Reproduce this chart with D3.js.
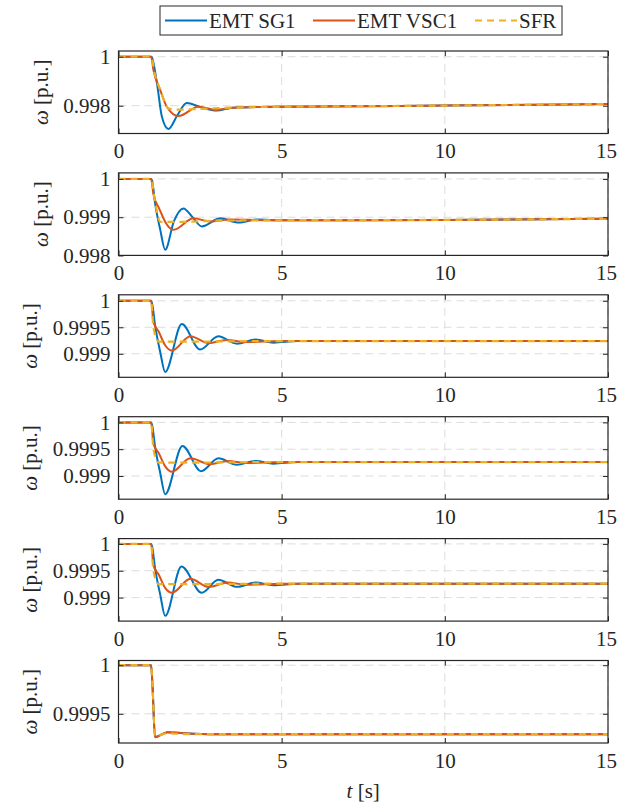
<!DOCTYPE html>
<html><head><meta charset="utf-8">
<script src="https://cdn.jsdelivr.net/npm/d3@7"></script>
<style>body{margin:0;background:#fff}svg{display:block}</style>
</head><body>
<svg id="c" width="617" height="810"></svg>
<script>
// ---------- data ----------
const seriesNames = ["EMT SG1", "EMT VSC1", "SFR"];
const xTicks = [0, 5, 10, 15];
const xDomain = [0, 15];
const yDomains = [[0.996866, 1.000233], [0.998003, 1.000157], [0.998556, 1.000113],
                  [0.998567, 1.000106], [0.998562, 1.0000987], [0.9991997, 1.0000484]];
const yTicks = [[0.998, 1], [0.998, 0.999, 1], [0.999, 0.9995, 1],
                [0.999, 0.9995, 1], [0.999, 0.9995, 1], [0.9995, 1]];
const yTickLabels = [["0.998", "1"], ["0.998", "0.999", "1"], ["0.999", "0.9995", "1"],
                     ["0.999", "0.9995", "1"], ["0.999", "0.9995", "1"], ["0.9995", "1"]];

// [t, omega] points
const p1SG  = [[0,1],[1.0,1],[1.02,0.99998],[1.18,0.9989],[1.33,0.99755],[1.53,0.99705],[1.8,0.9976],[2.09,0.99811],[2.5,0.99795],[3.01,0.9978],[3.5,0.99792],[5,0.99796],[8.6,0.99799],[12,0.99803],[15,0.99807]];
const p1VSC = [[0,1],[1.0,1],[1.07,0.99946],[1.28,0.99864],[1.48,0.99796],[1.84,0.99758],[2.45,0.99796],[3.0,0.99783],[3.5,0.99792],[5,0.99796],[8.6,0.99799],[12,0.99803],[15,0.99807]];
const p1SFR = [[0,1],[1.0,1],[1.12,0.99925],[1.28,0.99864],[1.53,0.99789],[1.8,0.99784],[2.5,0.99787],[3.5,0.99792],[5,0.99796],[8.6,0.99799],[12,0.99803],[15,0.99807]];

const p2SG  = [[0,1],[1.0,1],[1.03,0.99995],[1.12,0.99937],[1.28,0.99867],[1.43,0.99815],[1.7,0.9989],[1.99,0.99923],[2.27,0.999],[2.55,0.99876],[3.12,0.99897],[3.68,0.99886],[4.25,0.99894],[5,0.99892],[10,0.99893],[15,0.99896]];
const p2VSC = [[0,1],[1.0,1],[1.07,0.9996],[1.25,0.99922],[1.45,0.99885],[1.69,0.99867],[2.3,0.99897],[2.8,0.99889],[3.4,0.99894],[5,0.99892],[10,0.99893],[15,0.99896]];
const p2SFR = [[0,1],[1.0,1],[1.12,0.9994],[1.28,0.99888],[2,0.99888],[3,0.99891],[5,0.99892],[10,0.99893],[15,0.99896]];

const p3SG  = [[0,1],[1.0,1],[1.03,0.99995],[1.12,0.99954],[1.28,0.99903],[1.43,0.998655],[1.94,0.99956],[2.5,0.99908],[3.06,0.99933],[3.63,0.99919],[4.2,0.99927],[4.75,0.99921],[5.5,0.99924],[15,0.99924]];
const p3VSC = [[0,1],[1.0,1],[1.07,0.9996],[1.23,0.99942],[1.43,0.99916],[1.64,0.99906],[2.2,0.99933],[2.76,0.9992],[3.3,0.99926],[3.9,0.99922],[5,0.99924],[15,0.99924]];
const p3SFR = [[0,1],[1.0,1],[1.07,0.9995],[1.23,0.99923],[2,0.99923],[5,0.99924],[15,0.99924]];

const p4SG  = [[0,1],[1.0,1],[1.03,0.99995],[1.12,0.99955],[1.28,0.99905],[1.43,0.99866],[1.96,0.99956],[2.53,0.99909],[3.06,0.99933],[3.63,0.99921],[4.2,0.99928],[4.75,0.99923],[5.5,0.99926],[15,0.99926]];
const p4VSC = [[0,1],[1.0,1],[1.07,0.9996],[1.23,0.99943],[1.43,0.99918],[1.64,0.99908],[2.2,0.99933],[2.8,0.99922],[3.35,0.99928],[3.9,0.99924],[5,0.99926],[15,0.99926]];
const p4SFR = [[0,1],[1.0,1],[1.07,0.9995],[1.23,0.99925],[2,0.99925],[5,0.99926],[15,0.99926]];

const p5SG  = [[0,1],[1.0,1],[1.03,0.99995],[1.12,0.99955],[1.28,0.99905],[1.43,0.99866],[1.93,0.99958],[2.55,0.99909],[3.06,0.99933],[3.63,0.9992],[4.2,0.99928],[4.75,0.99923],[5.5,0.99926],[15,0.99926]];
const p5VSC = [[0,1],[1.0,1],[1.07,0.9996],[1.23,0.99943],[1.43,0.99918],[1.64,0.99909],[2.2,0.99935],[2.76,0.9992],[3.35,0.99928],[3.9,0.99924],[5,0.99926],[15,0.99926]];
const p5SFR = [[0,1],[1.0,1],[1.07,0.9995],[1.23,0.99925],[2,0.99925],[5,0.99926],[15,0.99926]];

const p6SG  = [[0,1],[1.0,1],[1.04,0.9998],[1.12,0.99926],[1.5,0.99931],[2,0.9993],[3,0.99929],[15,0.99929]];
const p6VSC = [[0,1],[1.0,1],[1.04,0.9998],[1.12,0.99926],[1.5,0.99931],[2,0.9993],[3,0.99929],[15,0.99929]];
const p6SFR = [[0,1],[1.0,1],[1.04,0.9998],[1.12,0.99927],[1.5,0.9993],[2,0.99929],[15,0.99929]];

const panels = [[p1SG,p1VSC,p1SFR],[p2SG,p2VSC,p2SFR],[p3SG,p3VSC,p3SFR],
                [p4SG,p4VSC,p4SFR],[p5SG,p5VSC,p5SFR],[p6SG,p6VSC,p6SFR]];

// ---------- style / layout ----------
const colors = ["#0072BD", "#D95319", "#EDB120"];
const FONT = "Liberation Serif";
const FS = 21;
const L = 118.5, R = 608, TOP0 = 51, STEP = 121.9, H = 82.5;
const axisCol = "#262626", gridCol = "#dcdcdc";

const svg = d3.select("#c").attr("font-family", FONT);
const x = d3.scaleLinear().domain(xDomain).range([L, R]);

panels.forEach((series, i) => {
  const top = TOP0 + i * STEP, bot = top + H;
  const y = d3.scaleLinear().domain(yDomains[i]).range([bot, top]);
  const g = svg.append("g");

  // grid
  g.selectAll(".gx").data(xTicks).join("line")
    .attr("x1", d => x(d)).attr("x2", d => x(d)).attr("y1", top).attr("y2", bot)
    .attr("stroke", gridCol).attr("stroke-width", 1).attr("stroke-dasharray", "8,5");
  g.selectAll(".gy").data(yTicks[i]).join("line")
    .attr("x1", L).attr("x2", R).attr("y1", d => y(d)).attr("y2", d => y(d))
    .attr("stroke", gridCol).attr("stroke-width", 1).attr("stroke-dasharray", "8,5");

  // lines
  const clipId = "clip" + i;
  svg.append("clipPath").attr("id", clipId).append("rect")
    .attr("x", L).attr("y", top).attr("width", R - L).attr("height", H);
  const line = d3.line().x(d => x(d[0])).y(d => y(d[1])).curve(d3.curveMonotoneX);
  series.forEach((s, k) => {
    g.append("path").datum(s).attr("d", line)
      .attr("fill", "none").attr("stroke", colors[k]).attr("stroke-width", k === 2 ? 2.2 : 2)
      .attr("stroke-dasharray", k === 2 ? "7,5" : null)
      .attr("clip-path", `url(#${clipId})`);
  });

  // axes (ticks inward, box)
  const ax = d3.axisBottom(x).tickValues(xTicks).tickSize(-5).tickPadding(10).tickFormat(d3.format("d"));
  const gb = g.append("g").attr("transform", `translate(0,${bot})`).call(ax);
  const ay = d3.axisLeft(y).tickValues(yTicks[i]).tickSize(-5).tickPadding(8)
    .tickFormat((d, j) => yTickLabels[i][j]);
  const gl = g.append("g").attr("transform", `translate(${L},0)`).call(ay);
  const at = d3.axisTop(x).tickValues(xTicks).tickSize(-5).tickFormat("");
  g.append("g").attr("transform", `translate(0,${top})`).call(at);
  const ar = d3.axisRight(y).tickValues(yTicks[i]).tickSize(-5).tickFormat("");
  g.append("g").attr("transform", `translate(${R},0)`).call(ar);
  g.selectAll("g").attr("font-family", FONT).attr("font-size", FS);
  g.selectAll(".domain").remove();
  g.selectAll(".tick line").attr("stroke", axisCol);
  g.selectAll(".tick text").attr("font-family", FONT).attr("font-size", FS).attr("fill", axisCol);
  // keep the last x label inside the window
  gb.selectAll(".tick text").filter(d => d === xDomain[1]).attr("dx", "-2");
  g.append("rect").attr("x", L).attr("y", top).attr("width", R - L).attr("height", H)
    .attr("fill", "none").attr("stroke", axisCol).attr("stroke-width", 1.2);

  // y label
  let minLeft = Infinity;
  gl.selectAll(".tick text").each(function () {
    const b = this.getBBox(); minLeft = Math.min(minLeft, L + b.x);
  });
  const lx = minLeft - 23, ly = (top + bot) / 2;
  const yl = svg.append("text").attr("transform", `translate(${lx},${ly}) rotate(-90)`)
    .attr("text-anchor", "middle").attr("dy", "0.35em")
    .attr("font-family", FONT).attr("font-size", FS).attr("fill", axisCol);
  yl.append("tspan").attr("font-style", "italic").text("ω");
  yl.append("tspan").text(" [p.u.]");
});

// x label
const xl = svg.append("text").attr("x", (L + R) / 2).attr("y", 798)
  .attr("text-anchor", "middle").attr("font-family", FONT).attr("font-size", FS).attr("fill", axisCol);
xl.append("tspan").attr("font-style", "italic").text("t");
xl.append("tspan").text(" [s]");

// legend
const lg = svg.append("g");
lg.append("rect").attr("x", 160).attr("y", 6).attr("width", 402).attr("height", 29)
  .attr("fill", "#fff").attr("stroke", axisCol).attr("stroke-width", 1);
const legX = [165, 313, 475];
seriesNames.forEach((n, k) => {
  lg.append("line").attr("x1", legX[k]).attr("x2", legX[k] + 42).attr("y1", 20.5).attr("y2", 20.5)
    .attr("stroke", colors[k]).attr("stroke-width", k === 2 ? 2.2 : 2)
    .attr("stroke-dasharray", k === 2 ? "7,5" : null);
  lg.append("text").attr("x", legX[k] + 44).attr("y", 27.5)
    .attr("font-family", FONT).attr("font-size", FS).attr("fill", axisCol).text(n);
});
</script>
</body></html>
